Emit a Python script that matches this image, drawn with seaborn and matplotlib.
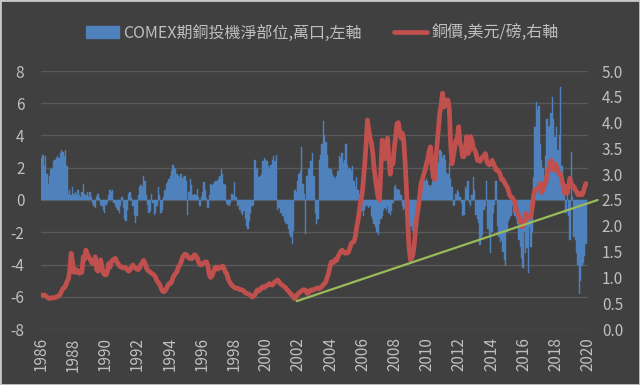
import numpy as np
import pandas as pd
import matplotlib
matplotlib.use("Agg")
import matplotlib.pyplot as plt
import seaborn as sns
from matplotlib.patches import Patch, Rectangle
from matplotlib.lines import Line2D
from matplotlib.ticker import FormatStrFormatter

# ---------------- data (monthly, Jan 1986 .. Nov 2019) ----------------
start_year = 1986

# COMEX copper speculative net position, 10k contracts (left axis)
net_position = [
    2.6, 2.8, 2.1, 2.7, 1.6, 1.0, 1.5, 1.9, 2.0, 2.4, 2.5, 2.6,        # 1986
    2.7, 2.6, 2.9, 3.1, 3.0, 2.7, 3.1, 2.1, 0.4, 0.6, 0.3, 0.8,        # 1987
    0.4, 0.5, 0.3, 0.6, 0.3, 0.2, 0.5, 1.0, 0.4, 0.3, 0.5, 0.2,        # 1988
    0.5, 0.2, -0.2, -0.4, -0.5, 0.2, 0.4, 0.1, -0.3, -0.4, -0.6, -0.8, # 1989
    -0.3, -0.2, 0.3, 0.6, 0.5, 0.6, -0.2, -0.4, -0.5, -0.6, -0.8, -0.4,# 1990
    0.2, -0.5, -1.2, -1.3, -0.6, 0.4, 0.5, 0.1, -0.4, -0.9, -1.4, -1.0,# 1991
    0.3, 0.8, 0.9, 0.8, 1.5, 1.2, 0.3, -0.3, -0.8, -0.7, 0.4, -0.2,    # 1992
    -0.9, -0.8, -0.4, 0.8, 0.3, -0.8, -0.6, 0.2, 0.6, 1.0, 1.1, 1.3,   # 1993
    1.5, 1.8, 2.2, 2.0, 1.9, 1.6, 1.5, 1.4, 1.6, 1.3, 1.4, 1.5,        # 1994
    1.2, -0.9, 0.5, 1.3, 0.9, 0.3, 0.4, 0.3, 0.7, 0.2, -0.4, 0.2,      # 1995
    0.5, 1.1, 0.6, 0.1, -0.5, 0.3, 1.0, 0.9, 1.0, 1.1, 1.2, 1.2,       # 1996
    1.3, 1.5, 1.9, 1.6, 1.0, 0.9, -0.2, -0.3, -0.4, -0.2, 0.4, 0.3,    # 1997
    1.1, 0.2, -0.4, -0.3, -0.6, -0.8, -0.9, -0.7, -1.2, -1.6, -1.8, -1.3,  # 1998
    -0.8, -0.4, -0.3, 2.5, 1.9, 2.0, 1.4, 1.5, 1.6, 2.4, 2.6, 2.5,     # 1999
    2.4, 2.1, 2.0, 2.2, 2.5, 2.7, 2.4, 2.8, -0.6, -0.5, -0.8, -0.8,    # 2000
    -1.0, -1.3, -1.4, -1.5, -1.8, -2.1, -2.3, -2.7, -1.9, 0.6, 0.5, 1.2,   # 2001
    1.6, 1.8, 3.3, 1.0, 0.4, -2.1, 1.5, 1.9, 2.0, 2.4, 2.9, 1.5,       # 2002
    -0.8, -1.5, -1.2, 2.5, 2.8, 3.5, 4.9, 4.0, 3.6, 2.8, 2.0, 1.9,     # 2003
    1.9, 1.6, 1.4, 1.3, 1.5, 1.8, 2.7, 2.6, 2.9, 2.3, 2.5, 3.5,        # 2004
    2.2, 1.9, 2.0, 1.8, 2.1, 1.2, 0.8, 1.4, 0.6, 0.4, -0.4, -0.7,      # 2005
    -1.0, -0.6, -0.4, -0.3, -0.5, -0.4, -1.0, -1.2, -1.5, -1.7, -2.0, -2.2,# 2006
    -1.5, -1.2, -1.0, -0.6, -0.5, -0.6, -0.4, -0.8, -0.9, -0.7, -0.2, 0.8, # 2007
    0.9, 0.7, 0.6, 0.6, 0.3, -0.4, -0.6, -0.5, -0.8, -0.9, -1.5, -1.7, # 2008
    -1.6, -1.9, -2.1, -2.2, -1.6, -0.8, -0.4, 0.9, 1.1, 1.3, 1.2, 1.3, # 2009
    1.2, 0.9, 0.8, 0.9, 1.2, 1.7, 2.0, 2.5, 2.3, 3.1, 3.0, 2.6,        # 2010
    2.8, 2.5, 1.7, 1.6, 2.3, 1.3, 0.8, -0.4, -0.3, 0.4, 0.6, 0.5,      # 2011
    0.2, -0.2, -1.0, -0.9, 0.8, 0.7, 1.2, -0.2, -0.4, 0.3, 1.45, 0.6,  # 2012
    -0.9, -1.2, -1.4, -2.8, -2.3, -2.2, -0.6, -0.4, 1.2, -1.8, -2.2, -3.3, # 2013
    -2.0, -0.8, -0.3, 1.2, -1.6, -2.3, -2.6, -2.5, -3.2, -3.7, -4.1, -2.0, # 2014
    -1.3, -1.2, -1.0, -0.4, -0.8, -1.0, -1.2, -1.5, -2.5, -2.9, -3.6, -4.2,# 2015
    -2.0, -3.3, -3.0, -4.5, -1.7, -2.9, -2.0, 1.4, 4.5, 6.1, 5.6, 5.8, # 2016
    3.5, 2.5, 2.0, 1.45, 2.7, 5.0, 4.5, 4.6, 5.4, 6.4, 5.0, 3.9,       # 2017
    4.5, 3.1, 4.0, 7.0, 2.1, 0.4, 0.5, -0.8, 0.3, -1.0, -2.5, 3.0,     # 2018
    0.2, -2.3, -2.5, -3.3, -4.0, -5.8, -5.0, -4.1, -3.9, -3.5, -2.7,   # 2019
]

# copper price, USD per pound (right axis)
copper_price = [
    0.66, 0.65, 0.66, 0.64, 0.62, 0.60, 0.59, 0.60, 0.61, 0.60, 0.61, 0.62,  # 1986
    0.63, 0.65, 0.68, 0.74, 0.79, 0.80, 0.85, 0.93, 0.97, 1.15, 1.47, 1.30,  # 1987
    1.10, 1.10, 1.15, 1.10, 1.08, 1.12, 1.10, 1.40, 1.35, 1.53, 1.45, 1.40,  # 1988
    1.36, 1.30, 1.27, 1.32, 1.40, 1.15, 1.12, 1.18, 1.34, 1.20, 1.08, 1.05,  # 1989
    1.05, 1.10, 1.27, 1.20, 1.30, 1.34, 1.35, 1.37, 1.30, 1.27, 1.22, 1.20,  # 1990
    1.20, 1.18, 1.20, 1.18, 1.14, 1.12, 1.15, 1.20, 1.24, 1.20, 1.18, 1.16,  # 1991
    1.15, 1.18, 1.25, 1.27, 1.33, 1.28, 1.20, 1.14, 1.12, 1.10, 1.08, 1.06,  # 1992
    1.04, 1.00, 0.93, 0.90, 0.86, 0.80, 0.74, 0.72, 0.74, 0.78, 0.84, 0.88,  # 1993
    0.88, 0.92, 1.00, 1.05, 1.08, 1.12, 1.20, 1.24, 1.30, 1.38, 1.43, 1.45,  # 1994
    1.44, 1.40, 1.37, 1.38, 1.36, 1.40, 1.44, 1.42, 1.38, 1.30, 1.25, 1.24,  # 1995
    1.26, 1.28, 1.30, 1.30, 1.22, 1.05, 1.00, 1.02, 1.10, 1.18, 1.20, 1.16,  # 1996
    1.20, 1.18, 1.20, 1.22, 1.18, 1.10, 1.08, 0.98, 0.92, 0.88, 0.84, 0.82,  # 1997
    0.80, 0.79, 0.79, 0.78, 0.76, 0.76, 0.75, 0.73, 0.70, 0.69, 0.68, 0.67,  # 1998
    0.65, 0.62, 0.63, 0.66, 0.72, 0.76, 0.74, 0.76, 0.80, 0.82, 0.80, 0.83,  # 1999
    0.84, 0.86, 0.88, 0.86, 0.85, 0.88, 0.92, 0.93, 0.95, 0.92, 0.88, 0.86,  # 2000
    0.84, 0.82, 0.80, 0.76, 0.74, 0.70, 0.68, 0.65, 0.60, 0.59, 0.64, 0.68,  # 2001
    0.70, 0.72, 0.74, 0.76, 0.76, 0.75, 0.69, 0.70, 0.74, 0.76, 0.75, 0.76,  # 2002
    0.78, 0.79, 0.80, 0.78, 0.80, 0.82, 0.86, 0.88, 0.92, 1.00, 1.08, 1.20,  # 2003
    1.30, 1.28, 1.30, 1.35, 1.33, 1.40, 1.45, 1.50, 1.53, 1.50, 1.47, 1.48,  # 2004
    1.47, 1.50, 1.58, 1.66, 1.68, 1.70, 1.80, 1.98, 2.10, 2.30, 2.50, 2.60,  # 2005
    2.90, 3.20, 3.60, 4.05, 3.85, 3.70, 3.60, 3.40, 3.10, 2.90, 2.70, 2.55,  # 2006
    2.50, 3.10, 3.66, 3.50, 3.30, 3.60, 3.70, 3.30, 3.00, 3.27, 3.20, 3.50,  # 2007
    3.73, 3.98, 4.00, 3.85, 3.70, 3.80, 3.66, 3.27, 2.76, 2.10, 1.60, 1.34,  # 2008
    1.37, 1.45, 1.66, 1.98, 2.20, 2.37, 2.60, 2.82, 2.90, 3.00, 3.08, 3.20,  # 2009
    3.30, 3.45, 3.53, 3.20, 2.95, 2.90, 3.30, 3.60, 3.90, 4.20, 4.35, 4.57,  # 2010
    4.30, 4.44, 4.40, 4.44, 4.28, 3.60, 3.20, 3.34, 3.50, 3.66, 3.70, 3.92,  # 2011
    3.60, 3.53, 3.34, 3.34, 3.50, 3.73, 3.40, 3.45, 3.73, 3.65, 3.50, 3.47,  # 2012
    3.40, 3.27, 3.27, 3.25, 3.30, 3.34, 3.36, 3.40, 3.25, 3.20, 3.18, 3.20,  # 2013
    3.27, 3.20, 3.15, 3.08, 3.08, 3.05, 3.00, 2.90, 2.90, 2.85, 2.80, 2.76,  # 2014
    2.70, 2.60, 2.56, 2.55, 2.50, 2.45, 2.30, 2.24, 2.18, 2.10, 1.98, 2.00,  # 2015
    2.05, 2.24, 2.20, 2.18, 2.15, 2.20, 2.37, 2.60, 2.70, 2.70, 2.72, 2.75,  # 2016
    2.82, 2.65, 2.70, 2.82, 2.82, 3.00, 3.08, 3.20, 3.27, 3.20, 3.08, 3.20,  # 2017
    3.15, 3.08, 3.00, 3.00, 2.90, 2.76, 2.63, 2.76, 2.63, 2.76, 2.92, 2.82,  # 2018
    2.76, 2.76, 2.70, 2.66, 2.60, 2.60, 2.63, 2.60, 2.65, 2.75, 2.82,        # 2019
]

# hand-drawn support (trend) line on the price axis
trend_years = [2001.9, 2020.6]
trend_price = [0.54, 2.50]

year_ticks = list(range(1986, 2021, 2))
left_ticks = [-8, -6, -4, -2, 0, 2, 4, 6, 8]
right_ticks = [0.0, 0.5, 1.0, 1.5, 2.0, 2.5, 3.0, 3.5, 4.0, 4.5, 5.0]
legend_labels = ["COMEX期銅投機淨部位,萬口,左軸", "銅價,美元/磅,右軸"]

# ---------------- style ----------------
BG = "#404040"
TXT = "#bfbfbf"
GRID = "#595959"
BLUE = "#4F81BD"
RED = "#C0504D"
GREEN = "#9BBB59"

sns.set_style("dark")
plt.rcParams["font.family"] = ["Noto Sans CJK TC", "DejaVu Sans"]

n = len(net_position)
t = start_year + (np.arange(n) + 0.5) / 12.0
df = pd.DataFrame({"t": t, "pos": net_position, "price": copper_price})

fig = plt.figure(figsize=(6.4, 3.85), dpi=100, facecolor=BG)
ax = fig.add_axes([41 / 640, 1 - 329 / 385, (588 - 41) / 640, (329 - 71) / 385])
ax.set_facecolor(BG)

sns.barplot(data=df, x="t", y="pos", native_scale=True, color=BLUE,
            saturation=1, width=1.0, errorbar=None, linewidth=0.3,
            edgecolor=BLUE, ax=ax)

ax2 = ax.twinx()
sns.lineplot(data=df, x="t", y="price", color=RED, linewidth=3.4, ax=ax2)
sns.lineplot(x=trend_years, y=trend_price, color=GREEN, linewidth=1.6,
             ax=ax2, clip_on=False)

ax.set_xlim(1986, 2020)
ax.set_ylim(-8, 8)
ax2.set_ylim(0, 5)

ax.set_xticks(year_ticks)
ax.set_xticklabels([str(y) for y in year_ticks], rotation=90)
ax.set_yticks(left_ticks)
ax.set_yticklabels([str(v) for v in left_ticks])
ax2.set_yticks(right_ticks)
ax2.yaxis.set_major_formatter(FormatStrFormatter("%.1f"))

for a in (ax, ax2):
    a.set_xlabel("")
    a.set_ylabel("")
    for s in a.spines.values():
        s.set_visible(False)
    a.tick_params(length=0, colors=TXT, labelsize=11)
ax.tick_params(axis="y", pad=12)
ax.tick_params(axis="x", pad=6)
ax2.tick_params(axis="y", pad=10)
ax2.patch.set_visible(False)

ax.grid(False)
ax2.grid(False)
ax.yaxis.grid(True, color=GRID, linewidth=1.0)
ax.set_axisbelow(True)

handles = [Patch(facecolor=BLUE, edgecolor=BLUE),
           Line2D([0], [0], color=RED, linewidth=3.4)]
fig.legend(handles, legend_labels, loc="center", bbox_to_anchor=(0.503, 0.914),
           ncol=2, frameon=False, fontsize=11.5, labelcolor=TXT,
           handlelength=2.1, columnspacing=2.0, handletextpad=0.25)

fig.patches.append(Rectangle((0, 0), 1, 1, transform=fig.transFigure,
                             fill=False, edgecolor="#c8c8c8", linewidth=2))

fig.savefig("out.png", dpi=100, facecolor=BG)
